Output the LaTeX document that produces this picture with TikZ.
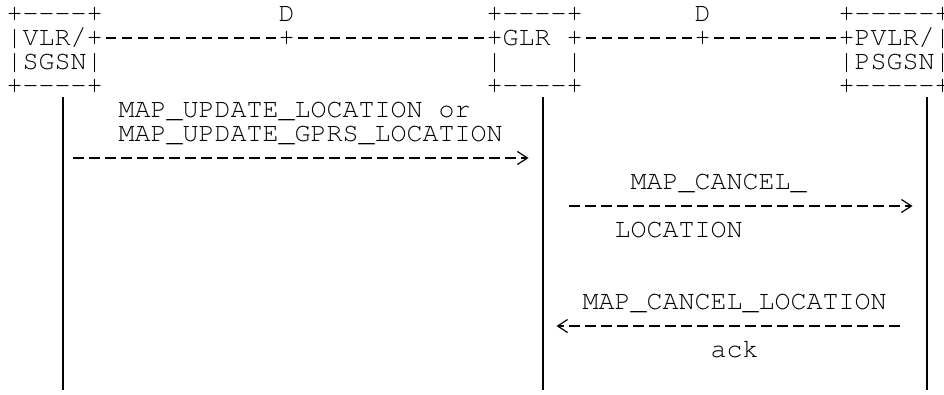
\documentclass[tikz,border=0pt]{standalone}
\usepackage[T1]{fontenc}
\usepackage{courier}
\usetikzlibrary{arrows.meta}
\newcommand\cour{\fontfamily{pcr}\fontsize{26.6667pt}{24pt}\selectfont}
\newcommand\dsh[1]{\foreach\k in {1,...,#1}{-}}

\begin{document}
\begin{tikzpicture}[x=16pt,y=-24pt,
  ch/.style={font=\cour,inner sep=0pt,text height=15pt,text depth=0pt,anchor=west},
  dlink/.style={line width=1.2pt,dash pattern=on 10.5pt off 5.5pt,shorten <=2.75pt,shorten >=2.75pt},
  life/.style={line width=2pt,shorten <=3.5pt},
  msg/.style={line width=1.2pt,dash pattern=on 10.5pt off 5.5pt,-{Straight Barb[length=10pt,width=13pt,sep=4pt]}}
]
\useasboundingbox[fill=white] (-0.90625,-0.58333) rectangle (58.09375,15.83333);

% entities
\node[ch] (vlr0) at (-0.5,0) {+\dsh{4}+};
\node[ch] (vlr1) at (-0.5,1) {|VLR/+};
\node[ch] (vlr2) at (-0.5,2) {|SGSN|};
\node[ch] (vlr3) at (-0.5,3) {+\dsh{4}+};

\node[ch] (glr0) at (29.5,0) {+\dsh{4}+};
\node[ch] (glr1) at (29.5,1) {+GLR\hspace*{16pt}+};
\node[ch] (glr2) at (29.5,2) {|\hspace*{64pt}|};
\node[ch] (glr3) at (29.5,3) {+\dsh{4}+};

\node[ch] (pv0) at (51.5,0) {+\dsh{5}+};
\node[ch] (pv1) at (51.5,1) {+PVLR/|};
\node[ch] (pv2) at (51.5,2) {|PSGSN|};
\node[ch] (pv3) at (51.5,3) {+\dsh{5}+};

% D interfaces
\node[ch] (dl) at (16.5,0) {D};
\node[ch] (dr) at (42.5,0) {D};
\node[ch] (pl) at (16.5,1) {+};
\node[ch] (pr) at (42.5,1) {+};
\draw[dlink] (vlr1.east) -- (pl.west);
\draw[dlink] (pl.east) -- (glr1.west);
\draw[dlink] (glr1.east) -- (pr.west);
\draw[dlink] (pr.east) -- (pv1.west);

% lifelines
\coordinate (vb) at (3,15.667);
\coordinate (gb) at (33,15.667);
\coordinate (pb) at (57,15.667);
\draw[life] (vlr3.south -| vb) -- (vb);
\draw[life] (glr3.south -| gb) -- (gb);
\draw[life] (pv3.south -| pb) -- (pb);

% messages
\node[ch] (upd1) at (6.5,4) {MAP\_UPDATE\_LOCATION or};
\node[ch] (upd2) at (6.5,5) {MAP\_UPDATE\_GPRS\_LOCATION};
\node[ch] (can1) at (38.5,7) {MAP\_CANCEL\_};
\node[ch] (can2) at (37.5,9) {LOCATION};
\node[ch] (ack1) at (35.5,12) {MAP\_CANCEL\_LOCATION};
\node[ch] (ack2) at (43.5,14) {ack};
\path (0,6) coordinate (y1) (0,8) coordinate (y2) (0,13) coordinate (y3);
\draw[msg,shorten <=10.75pt,shorten >=10pt] (vb |- y1) -- (gb |- y1);
\draw[msg,shorten <=26.75pt,shorten >=10pt] (gb |- y2) -- (pb |- y2);
\draw[msg,shorten <=26.75pt,shorten >=10pt] (pb |- y3) -- (gb |- y3);
\end{tikzpicture}
\end{document}
